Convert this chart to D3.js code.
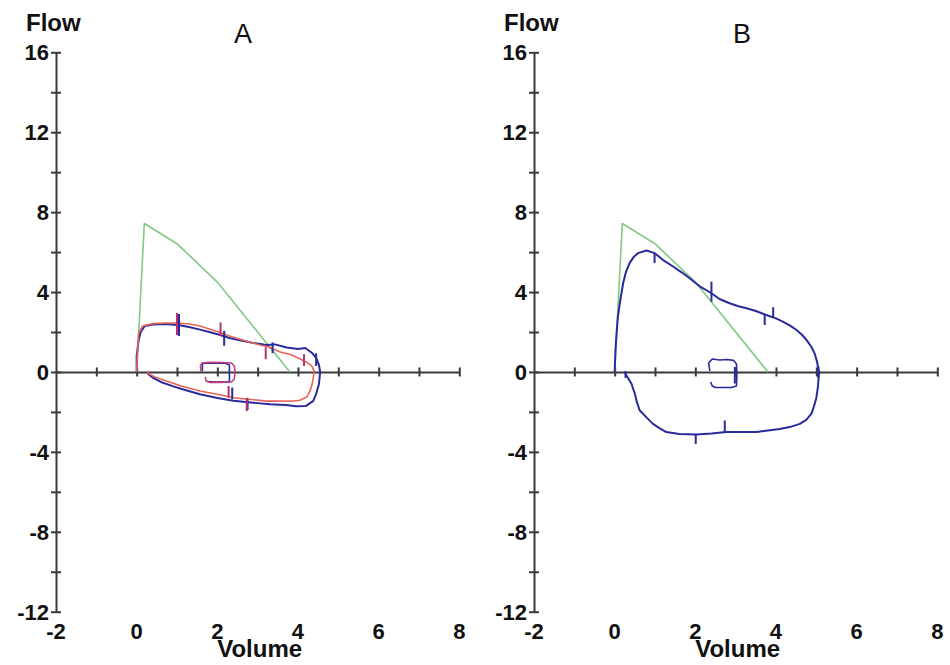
<!DOCTYPE html>
<html><head><meta charset="utf-8">
<script src="https://cdn.jsdelivr.net/npm/d3@7"></script>
<style>body{margin:0;background:#fff}svg{display:block}</style>
</head><body>
<svg id="chart" width="950" height="665"></svg>
<script>
// ---- data ----
const volumeTickLabels = [-2, 0, 2, 4, 6, 8];
const volumeMinorTicks = [-1, 0, 1, 2, 3, 4, 5, 6, 7, 8];
const flowTickLabels = [16, 12, 8, 4, 0, -4, -8, -12];
const flowMinorTicks = [16, 14, 12, 10, 8, 6, 4, 2, 0, -2, -4, -6, -8, -10, -12];

// predicted (green) curve, same on both panels
const predVolume = [0, 0.19, 1.0, 2.0, 3.8];
const predFlow   = [0, 7.43, 6.42, 4.5, 0];

// Panel A – blue loop
const aBlueVolume = [0,0.0,0.05,0.1,0.2,0.41,0.7,1.03,1.3,1.57,1.8,2.07,2.3,2.56,2.9,3.22,3.43,3.72,4.0,4.18,4.35,4.45,4.52,4.55,4.52,4.45,4.38,4.2,3.95,3.7,3.3,3.0,2.7,2.4,2.0,1.57,1.2,0.91,0.6,0.41,0.3,0.25];
const aBlueFlow   = [0,0.8,1.6,2.0,2.3,2.38,2.4,2.35,2.25,2.12,2.0,1.85,1.7,1.58,1.45,1.35,1.38,1.22,1.15,1.2,0.95,0.7,0.35,0,-0.6,-1.1,-1.45,-1.7,-1.72,-1.65,-1.62,-1.56,-1.5,-1.44,-1.3,-1.12,-0.9,-0.72,-0.5,-0.3,-0.12,0];
// Panel A – red loop
const aRedVolume = [0,0.02,0.05,0.15,0.41,0.7,1.03,1.3,1.57,1.8,2.07,2.3,2.56,2.8,3.06,3.27,3.56,3.85,4.05,4.2,4.34,4.4,4.38,4.35,4.3,4.22,4.05,3.9,3.43,3.22,2.85,2.4,2.0,1.57,1.1,0.74,0.45,0.33,0.25];
const aRedFlow   = [0,1.0,1.95,2.3,2.42,2.45,2.45,2.4,2.3,2.15,1.98,1.8,1.64,1.5,1.35,1.25,1.0,0.85,0.65,0.5,0.3,0.05,-0.3,-0.62,-0.95,-1.25,-1.42,-1.45,-1.46,-1.46,-1.38,-1.29,-1.12,-0.95,-0.7,-0.45,-0.25,-0.12,0];
// Panel A – tidal loops
const aTidalRedVolume = [1.6,1.58,1.62,1.8,2.1,2.35,2.42,2.44,2.42,2.35,2.1,1.8,1.72,1.7];
const aTidalRedFlow   = [0.0,0.3,0.45,0.48,0.47,0.45,0.3,0,-0.35,-0.5,-0.52,-0.52,-0.45,-0.25];
const aTidalBlueVolume = [1.63,1.63,1.85,2.2,2.3,2.3,2.0,1.75];
const aTidalBlueFlow   = [0.05,0.42,0.45,0.44,0.35,-0.5,-0.5,-0.48];
// Panel A – tick marks [volume, flowTop, flowBottom]
const aRedMarks  = [[1.0,2.95,1.85],[2.08,2.48,1.8],[3.2,1.23,0.64],[4.15,0.89,0.3],[2.28,-0.7,-1.29],[2.73,-1.29,-1.96]];
const aBlueMarks = [[1.05,2.9,1.8],[2.17,2.06,1.31],[3.37,1.48,0.94],[4.45,0.94,0.3],[2.37,-0.78,-1.37],[2.75,-1.35,-1.9]];

// Panel B – blue loop
const bBlueVolume = [0,0.02,0.05,0.08,0.14,0.21,0.28,0.37,0.47,0.58,0.79,0.99,1.2,1.45,1.65,1.86,2.1,2.4,2.6,2.85,3.05,3.27,3.5,3.76,4.0,4.18,4.35,4.51,4.65,4.76,4.88,4.96,5.02,5.04,5.07,5.04,5.0,4.96,4.88,4.75,4.59,4.34,4.09,3.8,3.52,3.1,2.77,2.4,2.03,1.6,1.28,1.1,0.95,0.8,0.62,0.55,0.5,0.42,0.33,0.27,0.25];
const bBlueFlow   = [0,1.1,2.0,2.76,3.6,4.44,5.0,5.45,5.75,5.95,6.08,5.95,5.6,5.28,5.0,4.69,4.3,3.94,3.65,3.44,3.3,3.19,3.05,2.85,2.68,2.51,2.32,2.1,1.85,1.59,1.25,0.92,0.5,0.25,0,-0.75,-1.3,-1.6,-2.09,-2.4,-2.6,-2.76,-2.85,-2.93,-3.01,-3.01,-3.01,-3.08,-3.13,-3.1,-3.01,-2.8,-2.6,-2.3,-1.92,-1.5,-1.09,-0.6,-0.3,-0.1,0];
const bTidalVolume = [2.36,2.33,2.42,2.6,2.78,2.95,3.02,3.03,3.02,2.9,2.5,2.42,2.38];
const bTidalFlow   = [0.05,0.45,0.65,0.6,0.62,0.58,0.4,-0.2,-0.7,-0.78,-0.78,-0.7,-0.5];
const bBlueMarks = [[0.99,5.95,5.45],[2.4,4.52,3.52],[3.72,2.85,2.35],[3.93,3.24,2.73],[2.73,-2.43,-3.01],[2.01,-3.1,-3.6],[2.98,0.25,-0.58],[5.05,0.3,-0.3],[0.27,0.05,-0.3]];

// ---- drawing ----
const BLUE = "#2a2a9c", RED = "#e8645a", GREEN = "#84c884", AXIS = "#3a3a3a";
const svg = d3.select("#chart");
const FONT = "'Liberation Sans', Arial, sans-serif";

function zip(v, f) { return v.map((d, i) => [d, f[i]]); }

function panel(opt) {
  const x = d3.scaleLinear().domain([-2, 8]).range([opt.x0, opt.x0 + 403.3]);
  const y = d3.scaleLinear().domain([16, -12]).range([52.3, 611.7]);
  const g = svg.append("g");

  // y axis with crossing ticks
  const yAxis = d3.axisLeft(y).tickValues(flowMinorTicks).tickSizeInner(5).tickSizeOuter(0).tickFormat("");
  const ya = g.append("g").attr("transform", `translate(${x(-2)},0)`).call(yAxis);
  ya.selectAll("line").attr("x2", -5).attr("x1", 5);
  ya.selectAll("path,line").attr("stroke", AXIS).attr("stroke-width", 2);
  // y labels
  g.selectAll("text.yl").data(flowTickLabels).join("text")
    .attr("x", x(-2) - 7).attr("y", d => y(d)).attr("dy", "0.36em")
    .attr("text-anchor", "end").attr("font-family", FONT).attr("font-weight", "bold")
    .attr("font-size", 22).attr("fill", "#111").text(d => d);

  // x axis at flow 0 with crossing ticks
  const xAxis = d3.axisBottom(x).tickValues(volumeMinorTicks).tickSizeInner(4.5).tickSizeOuter(0).tickFormat("");
  const xa = g.append("g").attr("transform", `translate(0,${y(0)})`).call(xAxis);
  xa.selectAll("line").attr("y1", -4.5).attr("y2", 4.5);
  xa.selectAll("path,line").attr("stroke", AXIS).attr("stroke-width", 2);
  // x labels at the bottom
  g.selectAll("text.xl").data(volumeTickLabels).join("text")
    .attr("x", d => x(d)).attr("y", 639)
    .attr("text-anchor", "middle").attr("font-family", FONT).attr("font-weight", "bold")
    .attr("font-size", 22).attr("fill", "#111").text(d => d);

  g.append("text").attr("x", x(-2) - 30).attr("y", 31).attr("font-family", FONT)
    .attr("font-weight", "bold").attr("font-size", 24).attr("fill", "#111").text("Flow");
  g.append("text").attr("x", opt.titleX).attr("y", 43).attr("text-anchor", "middle")
    .attr("font-family", FONT).attr("font-size", 27).attr("fill", "#111").text(opt.title);
  g.append("text").attr("x", x(3.05)).attr("y", 657).attr("text-anchor", "middle")
    .attr("font-family", FONT).attr("font-weight", "bold").attr("font-size", 24)
    .attr("fill", "#111").text("Volume");

  const line = d3.line().x(d => x(d[0])).y(d => y(d[1]));
  opt.curves.forEach(c => {
    g.append("path").datum(c.pts).attr("d", line).attr("fill", "none")
      .attr("stroke", c.color).attr("stroke-width", c.w).attr("stroke-linejoin", "round");
  });
  opt.marks.forEach(m => {
    g.selectAll(null).data(m.data).join("line")
      .attr("x1", d => x(d[0])).attr("x2", d => x(d[0]))
      .attr("y1", d => y(d[1])).attr("y2", d => y(d[2]))
      .attr("stroke", m.color).attr("stroke-width", 2);
  });
}

panel({
  x0: 56, title: "A", titleX: 243,
  curves: [
    {pts: zip(predVolume, predFlow), color: GREEN, w: 1.6},
    {pts: zip(aBlueVolume, aBlueFlow), color: BLUE, w: 2},
    {pts: zip(aRedVolume, aRedFlow), color: RED, w: 1.6},
    {pts: zip(aTidalBlueVolume, aTidalBlueFlow), color: BLUE, w: 1.6},
    {pts: zip(aTidalRedVolume, aTidalRedFlow), color: "#c0407a", w: 1.6}
  ],
  marks: [{data: aBlueMarks, color: BLUE}, {data: aRedMarks, color: "#b8306a"}]
});

panel({
  x0: 534, title: "B", titleX: 742,
  curves: [
    {pts: zip(predVolume, predFlow), color: GREEN, w: 1.6},
    {pts: zip(bBlueVolume, bBlueFlow), color: BLUE, w: 2},
    {pts: zip(bTidalVolume, bTidalFlow), color: BLUE, w: 1.6}
  ],
  marks: [{data: bBlueMarks, color: BLUE}]
});
</script>
</body></html>
